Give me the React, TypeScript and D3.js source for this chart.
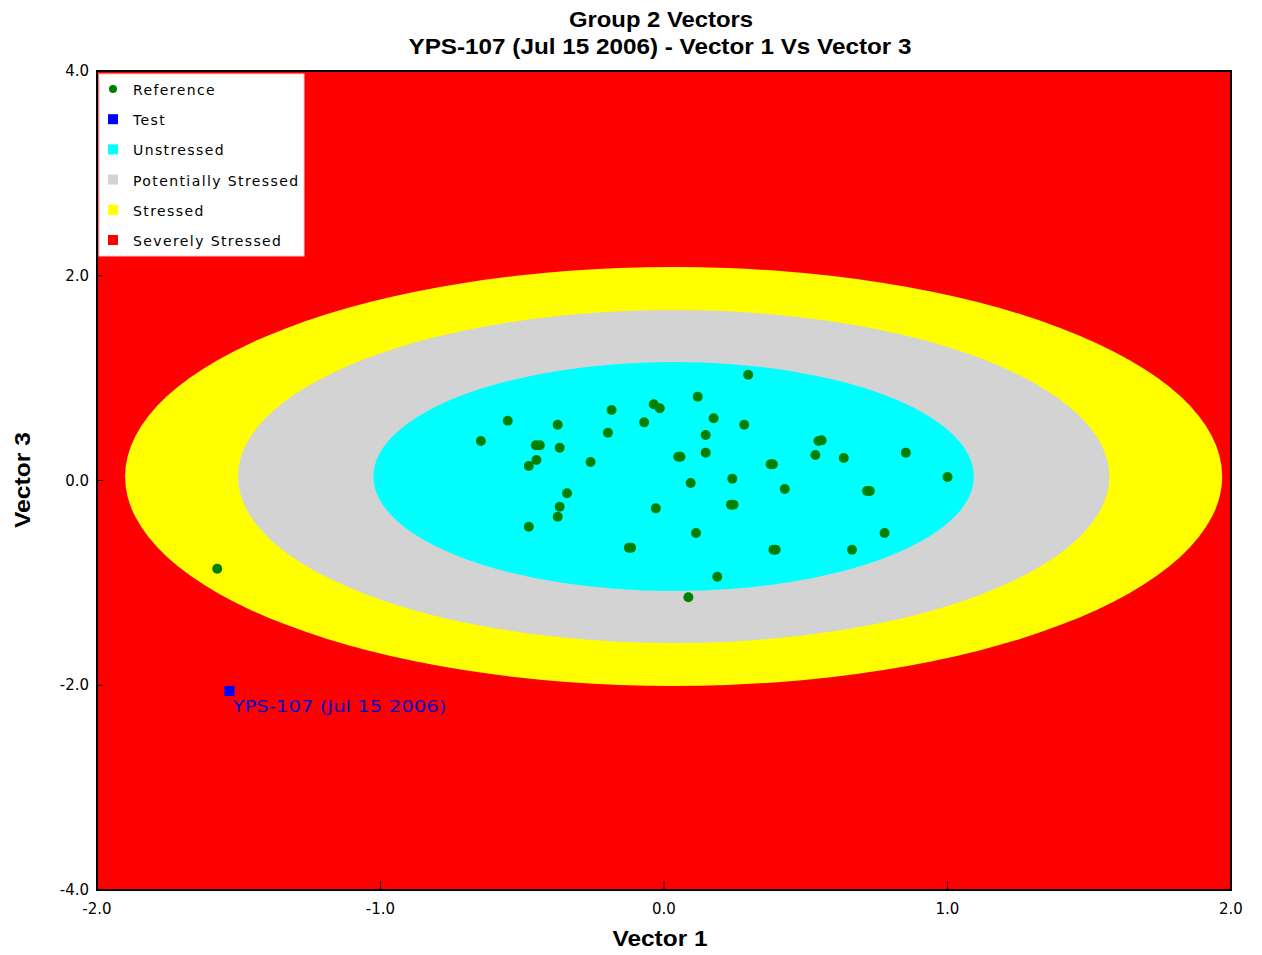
import React from "react";
import * as d3 from "d3";

// ---- Data ----
const refX = [-0.646, -0.551, -0.375, -0.452, -0.438, -0.368, -0.450, -0.477, -0.185, -0.198, -0.259, -0.070, -0.036, -0.015, 0.119, 0.297, 0.175, 0.147, 0.283, 0.050, 0.058, 0.147, -0.342, -0.368, -0.375, -0.477, -0.029, 0.094, 0.241, 0.236, 0.245, 0.376, 0.384, 0.426, 0.545, 0.556, 0.534, 0.634, 0.853, 1.000, 0.716, 0.726, 0.778, 0.663, 0.386, 0.394, 0.113, -0.124, -0.116, 0.188, 0.086, -1.576];
const refY = [0.386, 0.584, 0.545, 0.344, 0.344, 0.320, 0.200, 0.142, 0.689, 0.467, 0.181, 0.568, 0.744, 0.705, 0.819, 1.033, 0.608, 0.444, 0.545, 0.232, 0.232, 0.272, -0.125, -0.256, -0.354, -0.451, -0.272, -0.024, 0.018, -0.236, -0.236, 0.158, 0.158, -0.083, 0.386, 0.392, 0.249, 0.220, 0.272, 0.034, -0.103, -0.103, -0.513, -0.676, -0.676, -0.676, -0.513, -0.656, -0.656, -0.940, -1.141, -0.862];

const testX = [-1.533];
const testY = [-2.056];
const testLabels = ["YPS-107 (Jul 15 2006)"];

// zones drawn outermost first (Severely Stressed is the background)
const zoneNames = ["Stressed", "Potentially Stressed", "Unstressed"];
const zoneColors = ["#ffff00", "#d3d3d3", "#00ffff"];
const zoneRx = [1.935, 1.537, 1.059];
const zoneRy = [2.046, 1.626, 1.118];
const zoneCx = 0.034;
const zoneCy = 0.039;

const legendLabels = ["Reference", "Test", "Unstressed", "Potentially Stressed", "Stressed", "Severely Stressed"];
const legendColors = ["#008000", "#0000ff", "#00ffff", "#d3d3d3", "#ffff00", "#ff0000"];

const xTicks = [-2, -1, 0, 1, 2];
const yTicks = [4, 2, 0, -2, -4];

const titleLine1 = "Group 2 Vectors";
const titleLine2 = "YPS-107 (Jul 15 2006) - Vector 1 Vs Vector 3";
const xLabel = "Vector 1";
const yLabel = "Vector 3";

export default function App() {
  const left = 97, right = 1231, top = 71, bottom = 890;
  const x = d3.scaleLinear().domain([-2, 2]).range([left, right]);
  const y = d3.scaleLinear().domain([-4, 4]).range([bottom, top]);
  const fmt = (v: number) => d3.format(".1f")(v).replace("\u2212", "-");
  const condensed = "'Liberation Sans Narrow', 'Liberation Sans', Arial, sans-serif";
  const small = "'DejaVu Sans', Verdana, sans-serif";

  return (
    <svg width={1262} height={955} style={{ position: "absolute", left: 0, top: 0, background: "#fff" }}>
      <defs>
        <clipPath id="plot">
          <rect x={left} y={top} width={right - left} height={bottom - top} />
        </clipPath>
      </defs>
      {/* titles */}
      <text x={661} y={27} textAnchor="middle" fontFamily={condensed} fontWeight="bold" fontSize={22} textLength={184} lengthAdjust="spacingAndGlyphs">{titleLine1}</text>
      <text x={660} y={54} textAnchor="middle" fontFamily={condensed} fontWeight="bold" fontSize={22} textLength={503} lengthAdjust="spacingAndGlyphs">{titleLine2}</text>

      {/* plot background: severely stressed */}
      <rect x={left} y={top} width={right - left} height={bottom - top} fill="#ff0000" />
      <g clipPath="url(#plot)">
        {zoneNames.map((n, i) => (
          <ellipse key={n} cx={x(zoneCx)} cy={y(zoneCy)} rx={x(zoneRx[i]) - x(0)} ry={y(0) - y(zoneRy[i])} fill={zoneColors[i]} />
        ))}
        {refX.map((v, i) => (
          <circle key={i} cx={x(v)} cy={y(refY[i])} r={5} fill="#008000" />
        ))}
        {testX.map((v, i) => (
          <g key={"t" + i}>
            <rect x={x(v) - 5} y={y(testY[i]) - 5} width={10} height={10} fill="#0000ff" />
            <text x={x(v) + 3} y={y(testY[i]) + 21} fontFamily={small} fontSize={15} fill="#0000cc" textLength={214} lengthAdjust="spacingAndGlyphs">{testLabels[i]}</text>
          </g>
        ))}
      </g>

      {/* ticks */}
      {xTicks.slice(1, -1).map((t) => (
        <line key={"xt" + t} x1={x(t)} x2={x(t)} y1={bottom} y2={bottom - 9} stroke="#000" strokeWidth={1} />
      ))}
      {yTicks.slice(1, -1).map((t) => (
        <line key={"yt" + t} x1={left} x2={left + 6} y1={y(t)} y2={y(t)} stroke="#000" strokeWidth={1} />
      ))}
      {/* frame */}
      <rect x={left} y={top} width={right - left} height={bottom - top} fill="none" stroke="#000" strokeWidth={2} />

      {/* tick labels */}
      {xTicks.map((t) => (
        <text key={"xl" + t} x={x(t)} y={914} textAnchor="middle" fontFamily={small} fontSize={15}>{fmt(t)}</text>
      ))}
      {yTicks.map((t) => (
        <text key={"yl" + t} x={89} y={y(t) + 5} textAnchor="end" fontFamily={small} fontSize={15}>{fmt(t)}</text>
      ))}

      {/* axis labels */}
      <text x={660} y={946} textAnchor="middle" fontFamily={condensed} fontWeight="bold" fontSize={22} textLength={95} lengthAdjust="spacingAndGlyphs">{xLabel}</text>
      <text transform="translate(30,480) rotate(-90)" textAnchor="middle" fontFamily={condensed} fontWeight="bold" fontSize={22} textLength={96} lengthAdjust="spacingAndGlyphs">{yLabel}</text>

      {/* legend */}
      <rect x={99} y={74} width={205} height={182} fill="#fff" stroke="#ffd0d0" strokeWidth={1} />
      {legendLabels.map((l, i) => {
        const cy = 89 + i * 30.2;
        return (
          <g key={l}>
            {i === 0 ? (
              <circle cx={113} cy={cy} r={4} fill={legendColors[i]} />
            ) : (
              <rect x={108} y={cy - 5} width={10} height={10} fill={legendColors[i]} />
            )}
            <text x={133} y={cy + 6} fontFamily={small} fontSize={14} letterSpacing={1.4}>{l}</text>
          </g>
        );
      })}
    </svg>
  );
}
